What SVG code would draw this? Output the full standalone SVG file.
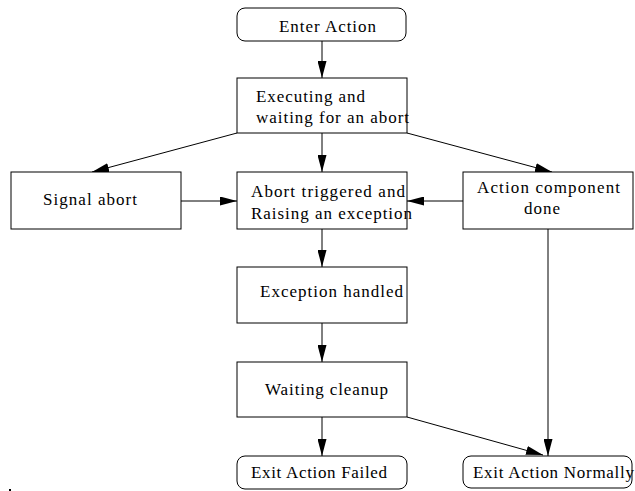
<svg xmlns="http://www.w3.org/2000/svg" width="635" height="491" viewBox="0 0 635 491">
<style>
.box{fill:#fff;stroke:#000;stroke-width:1}
.t{font-family:"Liberation Serif","Times New Roman",serif;font-size:17px;fill:#000}
.c{stroke:#000;stroke-width:1;fill:none;marker-end:url(#ah)}
</style>
<defs>
<marker id="ah" markerWidth="17" markerHeight="9" refX="17" refY="4.5" orient="auto" markerUnits="userSpaceOnUse">
<path d="M0,0 L17,4.5 L0,9 z" fill="#000"/>
</marker>
</defs>
<rect width="635" height="491" fill="#fff"/>
<g id="connectors">
<line class="c" x1="322" y1="41" x2="322" y2="78"/>
<line class="c" x1="322" y1="133" x2="322" y2="172"/>
<line class="c" x1="237" y1="133" x2="92" y2="172"/>
<line class="c" x1="407" y1="133" x2="552" y2="172"/>
<line class="c" x1="181" y1="201" x2="237" y2="201"/>
<line class="c" x1="463" y1="201" x2="407" y2="201"/>
<line class="c" x1="322" y1="229" x2="322" y2="267"/>
<line class="c" x1="322" y1="323" x2="322" y2="362"/>
<line class="c" x1="322" y1="417" x2="322" y2="456"/>
<line class="c" x1="407" y1="417" x2="543" y2="455"/>
<line class="c" x1="548" y1="229" x2="548" y2="456"/>
</g>
<g id="enter">
<rect class="box" x="237" y="8" width="169" height="33" rx="8"/>
<text class="t" x="279" y="32" textLength="97" lengthAdjust="spacing">Enter Action</text>
</g>
<g id="executing">
<rect class="box" x="237" y="78" width="170" height="55"/>
<text class="t" x="256" y="102" textLength="109" lengthAdjust="spacing">Executing and</text>
<text class="t" x="256" y="123" textLength="153" lengthAdjust="spacing">waiting for an abort</text>
</g>
<g id="signal">
<rect class="box" x="11" y="172" width="170" height="57"/>
<text class="t" x="43" y="205" textLength="94" lengthAdjust="spacing">Signal abort</text>
</g>
<g id="abort">
<rect class="box" x="237" y="172" width="170" height="57"/>
<text class="t" x="251" y="197" textLength="154" lengthAdjust="spacing">Abort triggered and</text>
<text class="t" x="251" y="219" textLength="161" lengthAdjust="spacing">Raising an exception</text>
</g>
<g id="component">
<rect class="box" x="463" y="172" width="170" height="57"/>
<text class="t" x="477" y="193" textLength="143" lengthAdjust="spacing">Action component</text>
<text class="t" x="524" y="214" textLength="36" lengthAdjust="spacing">done</text>
</g>
<g id="handled">
<rect class="box" x="237" y="267" width="170" height="56"/>
<text class="t" x="260" y="297" textLength="143" lengthAdjust="spacing">Exception handled</text>
</g>
<g id="cleanup">
<rect class="box" x="237" y="362" width="170" height="55"/>
<text class="t" x="265" y="395" textLength="123" lengthAdjust="spacing">Waiting cleanup</text>
</g>
<g id="failed">
<rect class="box" x="237" y="456" width="170" height="33" rx="8"/>
<text class="t" x="251" y="478" textLength="136" lengthAdjust="spacing">Exit Action Failed</text>
</g>
<g id="normal">
<rect class="box" x="463" y="456" width="169" height="32" rx="8"/>
<text class="t" x="473" y="478" textLength="161" lengthAdjust="spacing">Exit Action Normally</text>
</g>
<rect x="9" y="489" width="2" height="2" fill="#000"/>
</svg>
